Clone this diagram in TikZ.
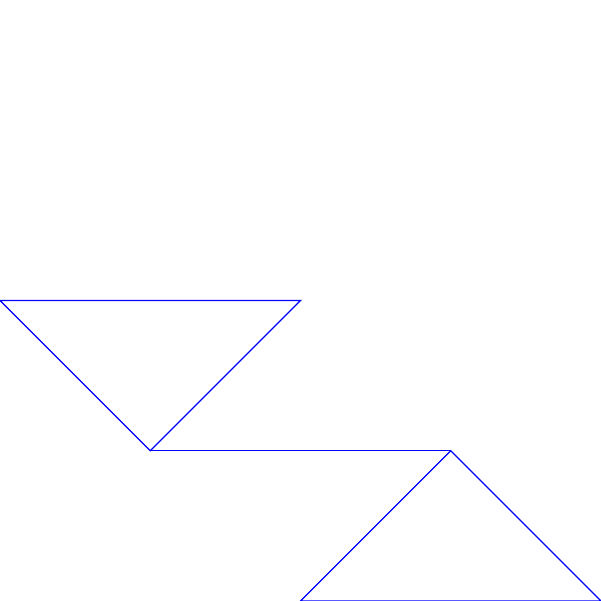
\documentclass[tikz,border=0pt]{standalone}

\newcommand*{\xmin}{0}
\newcommand*{\xmax}{4}
\newcommand*{\ymin}{0}
\newcommand*{\ymax}{4}

\begin{document}
\begin{tikzpicture}
[
	edge/.style={blue,line width=0.25pt}
]

	% frame
	\useasboundingbox (\xmin,\ymin) rectangle (\xmax,\ymax);

	% corners
	\coordinate (topleft) at (0,2);
	\coordinate (topright) at (2,2);
	\coordinate (midleft) at (1,1);
	\coordinate (midright) at (3,1);
	\coordinate (botleft) at (2,0);
	\coordinate (botright) at (4,0);

	% upper triangle
	\draw[edge] (topleft) -- (topright) -- (midleft) -- cycle;

	% link
	\draw[edge] (midleft) -- (midright);

	% lower triangle
	\draw[edge] (midright) -- (botright) -- (botleft) -- cycle;

\end{tikzpicture}
\end{document}
